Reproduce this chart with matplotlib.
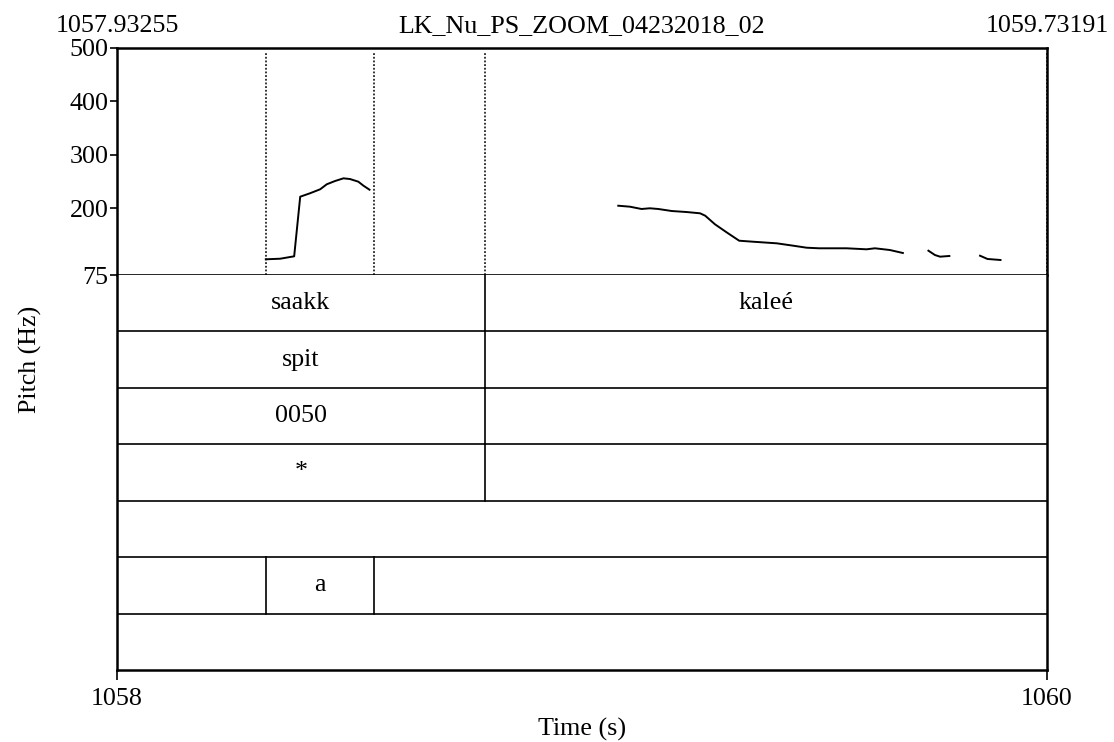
import numpy as np
import matplotlib.pyplot as plt

plt.rcParams['font.family'] = ['Liberation Serif', 'DejaVu Serif']
FS = 18.7

# Pitch track (time in s, F0 in Hz); nan = unvoiced gap
t1 = [1058.320, 1058.351, 1058.381, 1058.394, 1058.415, 1058.437, 1058.451,
      1058.469, 1058.487, 1058.501, 1058.519, 1058.530, 1058.543]
f1 = [104.4, 105.5, 110.0, 221.6, 228.0, 235.5, 244.8,
      251.0, 256.0, 254.7, 249.7, 242.2, 234.7]

t2 = [1059.078, 1059.103, 1059.128, 1059.146, 1059.164, 1059.193, 1059.225,
      1059.254, 1059.265, 1059.286, 1059.311, 1059.338, 1059.368, 1059.419,
      1059.454, 1059.483, 1059.510, 1059.569, 1059.612, 1059.630, 1059.662,
      1059.690, np.nan, 1059.745, 1059.759, 1059.770, 1059.790, np.nan,
      1059.856, 1059.872, 1059.900]
f2 = [204.7, 202.9, 198.6, 199.9, 198.6, 194.8, 192.9,
      190.5, 186.0, 169.9, 154.9, 139.2, 137.3, 134.3,
      129.9, 126.1, 125.0, 125.0, 123.1, 125.0, 121.8,
      116.2, np.nan, 120.5, 112.4, 109.3, 110.6, np.nan,
      111.1, 105.0, 103.1]

# TextGrid tiers: boundaries and interval labels
tier_bounds = [
    [1058.791],
    [1058.791],
    [1058.791],
    [1058.791],
    [],
    [1058.320, 1058.553],
    [],
]
tier_labels = [
    ["saakk", "kaleé"],
    ["spit", ""],
    ["0050", ""],
    ["*", ""],
    [""],
    ["", "a", ""],
    [""],
]
dotted_bounds = [1058.320, 1058.553, 1058.791, 1060.0]

x_min, x_max = 1058.0, 1060.0
f_min, f_max = 75, 500
y_ticks = [75, 200, 300, 400, 500]
title = "LK_Nu_PS_ZOOM_04232018_02"
left_time, right_time = "1057.93255", "1059.73191"

W, H = 1114, 742
fig = plt.figure(figsize=(W / 100, H / 100), dpi=100)
L, R = 117 / W, 1047 / W
top, mid, bot = 48, 275, 670
ax1 = fig.add_axes([L, 1 - mid / H, R - L, (mid - top) / H])
ax2 = fig.add_axes([L, 1 - bot / H, R - L, (bot - mid) / H])

# pitch panel
ax1.plot(t1, f1, color='black', lw=1.4)
ax1.plot(t2, f2, color='black', lw=1.4)
for b in dotted_bounds:
    ax1.axvline(b, ymax=0.98, color='black', lw=1.1, ls=(0, (1.2, 1.2)))
ax1.set_xlim(x_min, x_max)
ax1.set_ylim(f_min, f_max)
ax1.set_yticks(y_ticks)
ax1.set_xticks([])
ax1.tick_params(axis='y', labelsize=FS, length=5, width=1.2, pad=1)
for s in ax1.spines.values():
    s.set_linewidth(1.8)
ax1.spines['bottom'].set_linewidth(1.2)

ty = 1 + 16 / (mid - top)
tr = ax1.get_xaxis_transform()
ax1.text(x_min, ty, left_time, transform=tr, ha='center', va='baseline', fontsize=FS)
ax1.text((x_min + x_max) / 2, ty, title, transform=tr, ha='center', va='baseline', fontsize=FS)
ax1.text(x_max, ty, right_time, transform=tr, ha='center', va='baseline', fontsize=FS)

# tiers
n = len(tier_labels)
ax2.set_xlim(x_min, x_max)
ax2.set_ylim(n, 0)
for i in range(1, n):
    ax2.axhline(i, color='black', lw=1.2)
for i, (bounds, labels) in enumerate(zip(tier_bounds, tier_labels)):
    edges = [x_min] + bounds + [x_max]
    for b in bounds:
        ax2.plot([b, b], [i, i + 1], color='black', lw=1.2)
    for j, lab in enumerate(labels):
        ax2.text((edges[j] + edges[j + 1]) / 2, i + 0.5, lab,
                 ha='center', va='center', fontsize=FS)
ax2.set_yticks([])
ax2.set_xticks([x_min, x_max])
ax2.set_xticklabels(["1058", "1060"])
ax2.tick_params(axis='x', labelsize=FS, length=7, width=1.2, pad=6)
for s in ax2.spines.values():
    s.set_linewidth(1.8)
ax2.spines['top'].set_visible(False)
ax2.set_xlabel("Time (s)", fontsize=FS, labelpad=6)

fig.text(30 / W, 1 - 359 / H, "Pitch (Hz)", rotation=90, ha='center',
         va='center', fontsize=FS)

fig.savefig("out.png", dpi=100)
